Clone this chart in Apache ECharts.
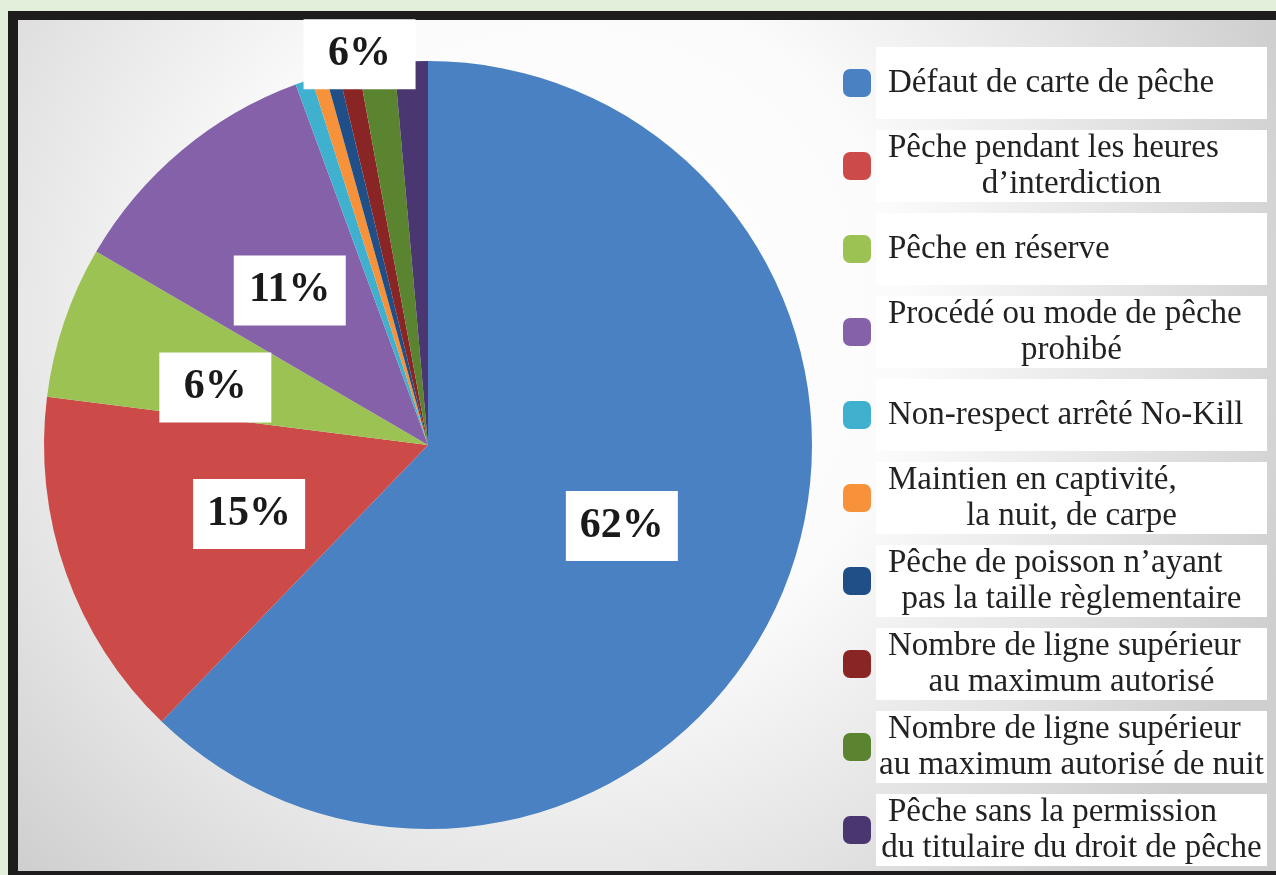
<!DOCTYPE html>
<html>
<head>
<meta charset="utf-8">
<script src="https://cdn.jsdelivr.net/npm/echarts@6/dist/echarts.min.js"></script>
<style>
    html, body { margin: 0; padding: 0; background: #e2efda; }
    #chart-pie { width: 1276px; height: 875px; }
</style>
</head>
<body>
<div id="chart-pie"></div>
<script>
// infractions relevées (part en %)
var categories = [
    'Défaut de carte de pêche',
    'Pêche pendant les heures\nd’interdiction',
    'Pêche en réserve',
    'Procédé ou mode de pêche\nprohibé',
    'Non-respect arrêté No-Kill',
    'Maintien en captivité,\nla nuit, de carpe',
    'Pêche de poisson n’ayant\npas la taille règlementaire',
    'Nombre de ligne supérieur\nau maximum autorisé',
    'Nombre de ligne supérieur\nau maximum autorisé de nuit',
    'Pêche sans la permission\ndu titulaire du droit de pêche'
];
var shares = [62.2, 14.8, 6.4, 11.0, 0.7, 0.6, 0.55, 0.85, 1.5, 1.4];
// les petites parts (à partir de l'index 4) n'ont qu'une étiquette commune
var smallFrom = 4;
var groupLabelOn = 7;

var colors = ['#4a81c3', '#cc4b48', '#9bc253', '#8461a9', '#3fb1cf',
              '#f7923a', '#1f4f86', '#8a2526', '#5a8430', '#4a3670'];

var total = shares.reduce(function (a, b) { return a + b; }, 0);
var smallSum = shares.slice(smallFrom).reduce(function (a, b) { return a + b; }, 0);

function pct(v) {
    return Math.round(v / total * 100) + '%';
}

// décalage des étiquettes (placées à la main sur l'original)
var nudge = [[13, 8], [5, 4], [-28, 5], [-13, -5]];

var labelBox = {
    show: true,
    position: 'inside',
    fontFamily: 'Liberation Serif',
    fontWeight: 'bold',
    fontSize: 42,
    lineHeight: 46,
    color: '#1a1a1a',
    backgroundColor: '#ffffff',
    width: 88,
    overflow: 'none',
    align: 'center',
    padding: [12, 12]
};

var pieData = categories.map(function (name, i) {
    var item = { name: name, value: shares[i], itemStyle: { color: colors[i] } };
    if (i < smallFrom) {
        item.label = Object.assign({}, labelBox, { formatter: pct(shares[i]), offset: nudge[i] });
    } else if (i === groupLabelOn) {
        item.label = Object.assign({}, labelBox, { formatter: pct(smallSum), offset: [-28, -200] });
    } else {
        item.label = { show: false };
    }
    return item;
});

var legendFont = { fontFamily: 'Liberation Serif', fontSize: 33, color: '#222' };

var chartPie = echarts.init(document.getElementById('chart-pie'));
var option = {
    animation: false,
    graphic: [
        {
            type: 'rect', silent: true, z: -10,
            shape: { x: 8, y: 11, width: 1300, height: 900 },
            style: { fill: '#1e1c1d' }
        },
        {
            type: 'rect', silent: true, z: -9,
            shape: { x: 18, y: 20, width: 1300, height: 851 },
            style: {
                fill: {
                    type: 'radial', x: 0.42, y: 0.36, r: 0.9,
                    colorStops: [
                        { offset: 0, color: '#ffffff' },
                        { offset: 0.45, color: '#fbfbfb' },
                        { offset: 0.75, color: '#e4e4e4' },
                        { offset: 1, color: '#cfcfcf' }
                    ]
                }
            }
        }
    ],
    legend: {
        orient: 'vertical',
        left: 838,
        top: 42,
        itemWidth: 28,
        itemHeight: 28,
        itemGap: 11,
        icon: 'roundRect',
        selectedMode: false,
        data: categories,
        formatter: function (name) {
            var lines = name.split('\n');
            if (lines.length === 1) {
                return '{one|' + name + '}';
            }
            return '{first|' + lines[0] + '}\n' + lines.slice(1).map(function (l) {
                return '{next|' + l + '}';
            }).join('\n');
        },
        textStyle: Object.assign({}, legendFont, {
            width: 383,
            overflow: 'none',
            backgroundColor: '#ffffff',
            padding: [0, 4],
            rich: {
                one: Object.assign({}, legendFont, { lineHeight: 72, align: 'left', padding: [0, 0, 0, 8] }),
                first: Object.assign({}, legendFont, { lineHeight: 36, align: 'left', padding: [0, 0, 0, 8] }),
                next: Object.assign({}, legendFont, { lineHeight: 36, align: 'center' })
            }
        })
    },
    series: [
        {
            type: 'pie',
            center: [428, 445],
            radius: [0, 384],
            startAngle: 90,
            clockwise: true,
            avoidLabelOverlap: false,
            labelLine: { show: false },
            itemStyle: { borderWidth: 0 },
            emphasis: { disabled: true },
            data: pieData
        }
    ]
};
chartPie.setOption(option);
</script>
</body>
</html>
